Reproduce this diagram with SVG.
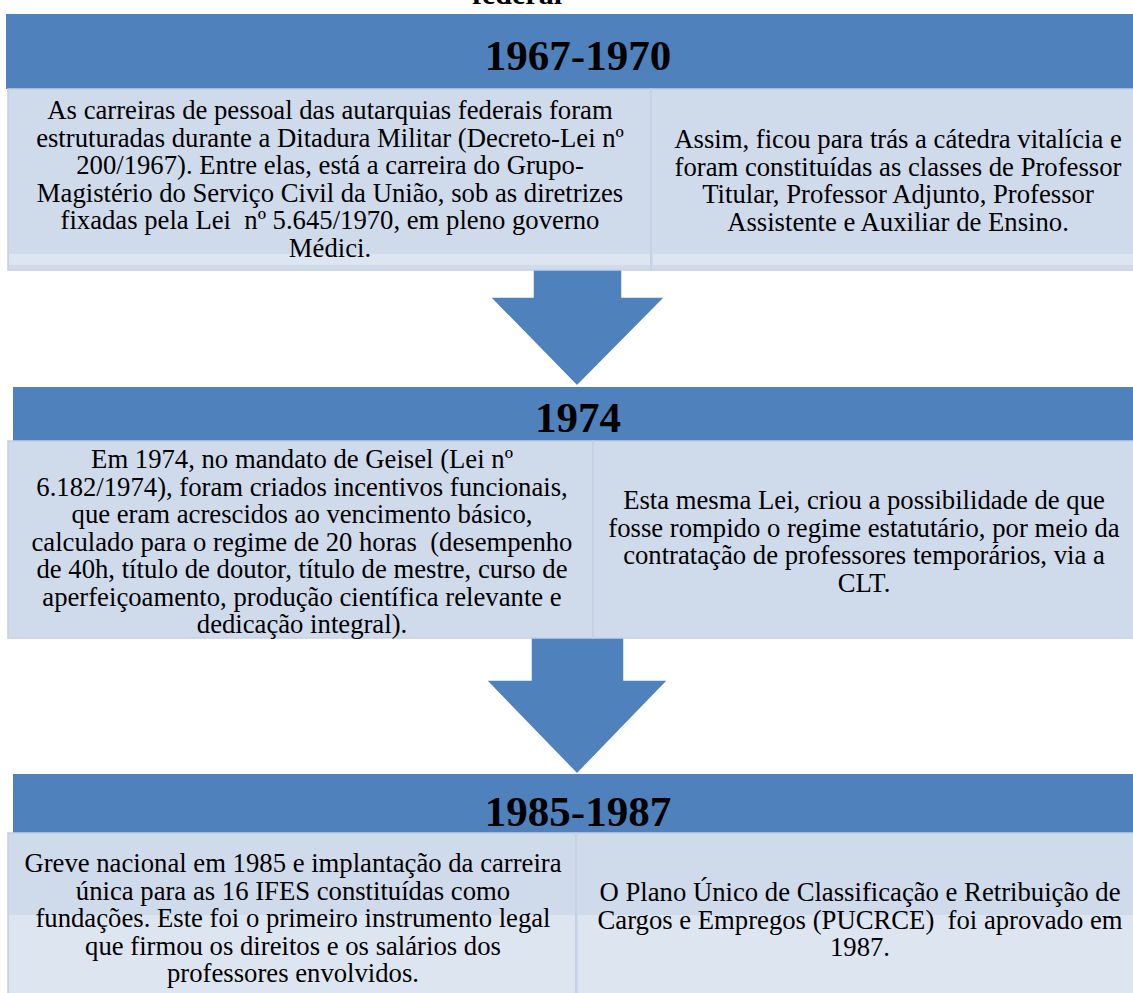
<svg xmlns="http://www.w3.org/2000/svg" width="1133" height="993" viewBox="0 0 1133 993">
<style>
.hdr{fill:#4F81BD}
.box{fill:#CFDAEB;stroke:#C4D0E4;stroke-width:1.5}
.band{fill:#DDE5F0}
.arrow{fill:#4F81BD;stroke:#FFFFFF;stroke-width:1.5;stroke-linejoin:miter}
.yr{font-family:"Liberation Serif","Times New Roman",serif;font-weight:bold;font-size:43px;fill:#000;text-anchor:middle}
.t{font-family:"Liberation Serif","Times New Roman",serif;font-size:26.7px;fill:#000;text-anchor:middle;white-space:pre}
</style>
<rect width="1133" height="993" fill="#FFFFFF"/>
<text x="517" y="4" class="yr" style="font-size:30px">federal</text>

<g id="connectors">
<polygon class="arrow" points="533,262 622,262 622,297 665,297 577,386 490,297 533,297"/>
<polygon class="arrow" points="531,630 624,630 624,680 668,680 577,774 486,680 531,680"/>
</g>

<g id="period1">
<rect class="hdr" x="6" y="14" width="1127" height="75"/>
<text class="yr" x="578" y="70">1967-1970</text>
</g>
<g id="box1-left">
<rect class="box" x="8" y="89" width="643" height="181"/>
<rect class="band" x="9" y="254" width="641" height="11"/>
<text class="t" x="330" y="119">As carreiras de pessoal das autarquias federais foram</text>
<text class="t" x="330" y="146.5">estruturadas durante a Ditadura Militar (Decreto-Lei nº</text>
<text class="t" x="330" y="174">200/1967). Entre elas, está a carreira do Grupo-</text>
<text class="t" x="330" y="201.5">Magistério do Serviço Civil da União, sob as diretrizes</text>
<text class="t" x="330" y="229">fixadas pela Lei  nº 5.645/1970, em pleno governo</text>
<text class="t" x="330" y="256.5">Médici.</text>
</g>
<g id="box1-right">
<rect class="box" x="651" y="89" width="484" height="181"/>
<rect class="band" x="653" y="254" width="480" height="11"/>
<text class="t" x="898" y="148">Assim, ficou para trás a cátedra vitalícia e</text>
<text class="t" x="898" y="175.5">foram constituídas as classes de Professor</text>
<text class="t" x="898" y="203">Titular, Professor Adjunto, Professor</text>
<text class="t" x="898" y="230.5">Assistente e Auxiliar de Ensino.</text>
</g>

<g id="period2">
<rect class="hdr" x="13" y="387" width="1120" height="54"/>
<text class="yr" x="578" y="432">1974</text>
</g>
<g id="box2-left">
<rect class="box" x="8" y="441" width="585" height="197"/>
<text class="t" x="302" y="468">Em 1974, no mandato de Geisel (Lei nº</text>
<text class="t" x="302" y="495.5">6.182/1974), foram criados incentivos funcionais,</text>
<text class="t" x="302" y="523">que eram acrescidos ao vencimento básico,</text>
<text class="t" x="302" y="550.5">calculado para o regime de 20 horas  (desempenho</text>
<text class="t" x="302" y="578">de 40h, título de doutor, título de mestre, curso de</text>
<text class="t" x="302" y="605.5">aperfeiçoamento, produção científica relevante e</text>
<text class="t" x="302" y="633">dedicação integral).</text>
</g>
<g id="box2-right">
<rect class="box" x="593" y="441" width="542" height="197"/>
<text class="t" x="864" y="509">Esta mesma Lei, criou a possibilidade de que</text>
<text class="t" x="864" y="536.5">fosse rompido o regime estatutário, por meio da</text>
<text class="t" x="864" y="564">contratação de professores temporários, via a</text>
<text class="t" x="864" y="591.5">CLT.</text>
</g>

<g id="period3">
<rect class="hdr" x="13" y="774" width="1120" height="59"/>
<text class="yr" x="578" y="826">1985-1987</text>
</g>
<g id="box3-left">
<rect class="box" x="8" y="833" width="568" height="170"/>
<rect class="band" x="9" y="915" width="566" height="88"/>
<text class="t" x="293" y="872">Greve nacional em 1985 e implantação da carreira</text>
<text class="t" x="293" y="899.5">única para as 16 IFES constituídas como</text>
<text class="t" x="293" y="927">fundações. Este foi o primeiro instrumento legal</text>
<text class="t" x="293" y="954.5">que firmou os direitos e os salários dos</text>
<text class="t" x="293" y="982">professores envolvidos.</text>
</g>
<g id="box3-right">
<rect class="box" x="576" y="833" width="559" height="170"/>
<rect class="band" x="578" y="915" width="557" height="88"/>
<text class="t" x="860" y="901">O Plano Único de Classificação e Retribuição de</text>
<text class="t" x="860" y="928.5">Cargos e Empregos (PUCRCE)  foi aprovado em</text>
<text class="t" x="860" y="956">1987.</text>
</g>
</svg>
